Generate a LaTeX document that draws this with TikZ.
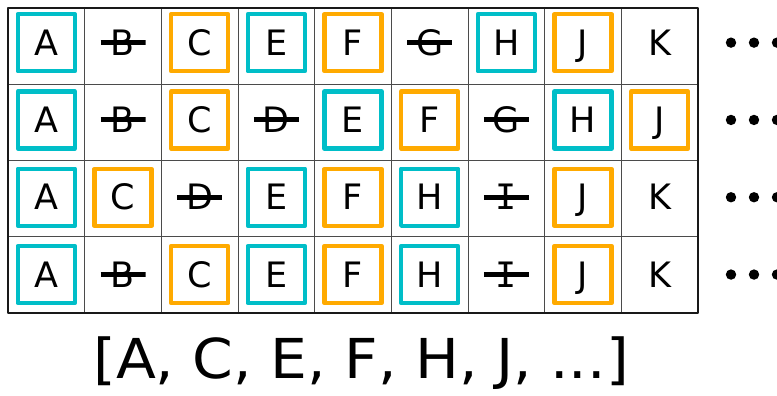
\documentclass[tikz,border=0pt]{standalone}
\usepackage{fontspec}
\setmainfont{DejaVu Sans}
\newfontfamily\widefont[FakeStretch=1.06]{DejaVu Sans}
\newfontfamily\serifI{DejaVu Sans Mono}
\usetikzlibrary{positioning}
\definecolor{keepcyan}{RGB}{0,190,200}
\definecolor{keeporange}{RGB}{255,170,0}
\definecolor{gridgray}{RGB}{75,75,75}

\tikzset{
  letter/.style={font=\fontsize{35}{35}\selectfont, text height=25pt, text depth=0pt,
    inner sep=0pt, minimum size=57pt},
  cellc/.style={letter, draw=keepcyan, line width=4.5pt},
  cello/.style={letter, draw=keeporange, line width=4.5pt},
  cellx/.style={letter, minimum size=0pt, minimum width=45pt,
    path picture={\draw[line width=5pt] (path picture bounding box.west) -- (path picture bounding box.east);}},
  celln/.style={letter}
}

\begin{document}
\begin{tikzpicture}[x=1pt, y=-1pt, line join=round]
    \useasboundingbox (0,0) rectangle (777,396);

    % grid of 4 rows x 9 columns
    \foreach \i in {1,...,8} {\draw[gridgray, line width=0.9pt] (8+\i*76.667,8) -- (8+\i*76.667,313);}
    \foreach \j in {1,2,3} {\draw[gridgray, line width=0.9pt] (8,8+\j*76.25) -- (698,8+\j*76.25);}
    \draw[black!90, line width=1.8pt] (8,8) rectangle (698,313);

    % c = kept (cyan), o = kept (orange), x = struck out, n = plain
    \foreach \row [count=\r] in {
        {A/c,B/x,C/o,E/c,F/o,G/x,H/c,J/o,K/n},
        {A/c,B/x,C/o,D/x,E/c,F/o,G/x,H/c,J/o},
        {A/c,C/o,D/x,E/c,F/o,H/c,{\serifI I}/x,J/o,K/n},
        {A/c,B/x,C/o,E/c,F/o,H/c,{\serifI I}/x,J/o,K/n}} {
      \pgfmathsetmacro{\ry}{4+(\r-0.5)*77.3}
      \foreach \l/\k [count=\c] in \row {
        \node[cell\k] (r\r c\c) at ({8+(\c-0.5)*76.667},\ry) {\l};
      }
      % more to come
      \foreach \x in {731,754,777} {\fill (\x,\ry) circle (5.2pt);}
    }

    \node[font=\widefont\fontsize{55}{55}\selectfont, inner sep=0pt] (result) at (361,363) {[A, C, E, F, H, J, ...]};
\end{tikzpicture}
\end{document}
